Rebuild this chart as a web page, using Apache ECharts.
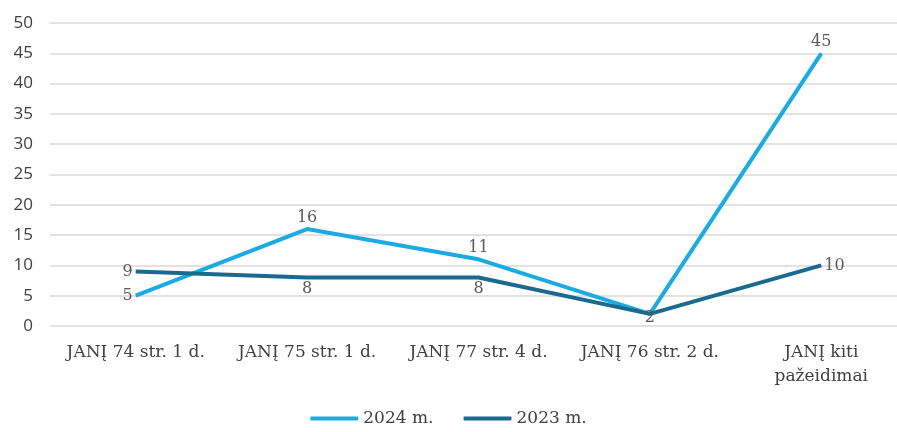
<!DOCTYPE html>
<html>
<head>
<meta charset="utf-8">
<script src="https://cdn.jsdelivr.net/npm/echarts@6/dist/echarts.min.js"></script>
<style>
  html, body { margin: 0; padding: 0; background: #fff; }
  #chart { width: 897px; height: 432px; }
</style>
</head>
<body>
<div id="chart"></div>
<script>
const categories = [
  "JANĮ 74 str. 1 d.",
  "JANĮ 75 str. 1 d.",
  "JANĮ 77 str. 4 d.",
  "JANĮ 76 str. 2 d.",
  "JANĮ kiti\npažeidimai",
];
const values2024 = [5, 16, 11, 2, 45];
const values2023 = [9, 8, 8, 2, 10];
const pos2024 = ["left", "top", "top", "inside", "top"];
const pos2023 = ["left", "bottom", "bottom", "inside", "right"];

const serif = "'DejaVu Serif', 'Liberation Serif', serif";
const sans = "'Open Sans', 'Liberation Sans', sans-serif";

const chart = echarts.init(document.getElementById("chart"));

// the two "2" labels sit on top of each other, so only one is drawn
const withLabels = (vals, pos, skip) =>
  vals.map((v, i) => ({
    value: v,
    label: {
      position: pos[i],
      show: i !== skip,
      offset: pos[i] === "inside" ? [0, 4] : [0, 0],
    },
  }));

const labelStyle = {
  show: true,
  fontFamily: serif,
  fontSize: 16,
  color: "#595959",
  distance: 3,
};

chart.setOption({
  animation: false,
  grid: { left: 50, right: -10, top: 23, bottom: 106, outerBoundsMode: "none" },
  legend: {
    bottom: 0,
    left: "center",
    itemWidth: 48,
    itemHeight: 4,
    itemGap: 30,
    icon: "roundRect",
    textStyle: { fontFamily: serif, fontSize: 17, color: "#404040", padding: [0, 0, 0, 0] },
    data: ["2024 m.", "2023 m."],
  },
  xAxis: {
    type: "category",
    data: categories,
    boundaryGap: true,
    axisLine: { show: false },
    axisTick: { show: false },
    axisLabel: {
      fontFamily: serif,
      fontSize: 17,
      color: "#404040",
      margin: 15,
      lineHeight: 24,
      interval: 0,
    },
  },
  yAxis: {
    type: "value",
    min: 0,
    max: 50,
    interval: 5,
    axisLine: { show: false },
    axisTick: { show: false },
    axisLabel: { fontFamily: sans, fontSize: 17, color: "#404040", margin: 17 },
    splitLine: { lineStyle: { color: "#d9d9d9", width: 1.5 } },
  },
  series: [
    {
      name: "2024 m.",
      type: "line",
      symbol: "circle",
      symbolSize: 0,
      color: "#1aabe2",
      lineStyle: { width: 4 },
      label: labelStyle,
      data: withLabels(values2024, pos2024, -1),
    },
    {
      name: "2023 m.",
      type: "line",
      symbol: "circle",
      symbolSize: 0,
      color: "#1b6a8e",
      lineStyle: { width: 4 },
      label: labelStyle,
      data: withLabels(values2023, pos2023, 3),
    },
  ],
});
</script>
</body>
</html>
